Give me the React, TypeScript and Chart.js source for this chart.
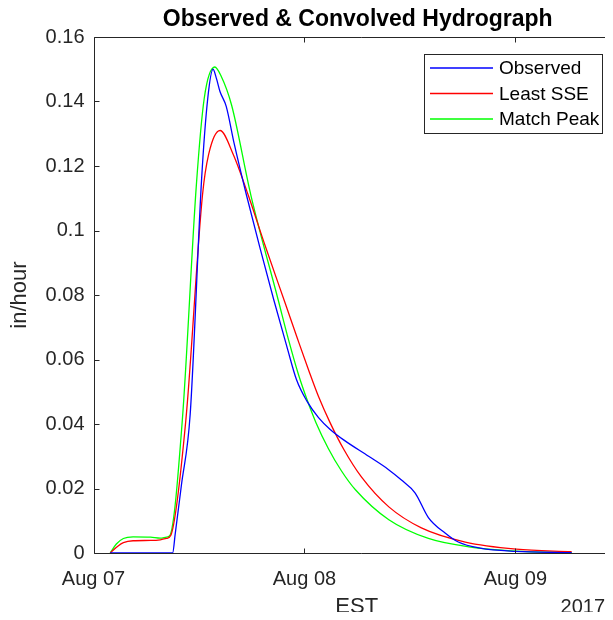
import React, { useEffect, useRef } from "react";
import { Chart, registerables } from "chart.js";

Chart.register(...registerables);

// Time in hours since Aug 07 00:00 (EST)
const obsTime = [1.9, 9.0, 9.3, 10.0, 11.0, 12.3, 13.0, 13.6, 14.0, 14.4, 15.1, 16.0, 17.4, 19.0, 20.5, 22.0, 23.1, 24.3, 25.6, 26.9, 28.5, 31.3, 33.5, 35.0, 36.6, 38.1, 40.0, 41.5, 44.0, 48.0, 54.4];
const obsValue = [0, 0, 0.006, 0.021, 0.043, 0.116, 0.141, 0.150, 0.147, 0.143, 0.1385, 0.127, 0.111, 0.094, 0.0786, 0.064, 0.0537, 0.047, 0.042, 0.0384, 0.035, 0.030, 0.026, 0.0227, 0.0186, 0.011, 0.0062, 0.0034, 0.0015, 0.0005, 0.0001];

const sseTime = [1.9, 2.8, 3.4, 4.5, 6.5, 7.6, 8.3, 8.8, 10.5, 12.4, 13.1, 14.4, 15.9, 17.6, 19.5, 21.8, 23.2, 24.5, 25.6, 26.9, 28.5, 30.5, 33.6, 37.3, 42.3, 48.1, 54.4];
const sseValue = [0, 0.0022, 0.0032, 0.0038, 0.0039, 0.0041, 0.0045, 0.0055, 0.041, 0.111, 0.1236, 0.131, 0.1236, 0.111, 0.0955, 0.0775, 0.0665, 0.0565, 0.0485, 0.0405, 0.032, 0.0235, 0.0143, 0.0078, 0.0034, 0.0012, 0.0004];

const peakTime = [1.9, 2.6, 3.4, 4.5, 6.5, 7.6, 8.3, 8.7, 10.1, 11.7, 12.6, 13.8, 14.5, 15.7, 17.9, 21.0, 22.2, 23.3, 24.3, 25.3, 26.7, 28.2, 29.8, 33.6, 38.1, 42.7, 48.0, 54.4];
const peakValue = [0, 0.0028, 0.0045, 0.005, 0.0049, 0.0046, 0.0049, 0.0055, 0.041, 0.114, 0.141, 0.1507, 0.148, 0.139, 0.111, 0.0786, 0.066, 0.0555, 0.0475, 0.0405, 0.0325, 0.0255, 0.0196, 0.0103, 0.0045, 0.0019, 0.0006, 0.0001];

const seriesNames = ["Observed", "Least SSE", "Match Peak"];
const seriesColors = ["#0000ff", "#ff0000", "#00ff00"];

const xTickHours = [0, 24, 48];
const xTickLabels = ["Aug 07", "Aug 08", "Aug 09"];
const yTicks = [0, 0.02, 0.04, 0.06, 0.08, 0.1, 0.12, 0.14, 0.16];

const titleText = "Observed & Convolved Hydrograph";
const xLabel = "EST";
const yLabel = "in/hour";
const yearLabel = "2017";

const AX = "#262626";
const FONT = "'Liberation Sans', Arial, Helvetica, sans-serif";

const pts = (t: number[], v: number[]) => t.map((x, i) => ({ x, y: v[i] }));

const decorPlugin = {
  id: "decor",
  afterDraw(chart: any) {
    const { ctx, chartArea: a, scales } = chart;
    const xs = scales.x;
    const ys = scales.y;
    ctx.save();
    ctx.strokeStyle = AX;
    ctx.lineWidth = 1;
    ctx.beginPath();
    const L = Math.round(a.left) + 0.5;
    const T = Math.round(a.top) + 0.5;
    const B = Math.round(a.bottom) + 0.5;
    ctx.moveTo(L, T);
    ctx.lineTo(L, B);
    ctx.lineTo(a.right + 10, B);
    ctx.moveTo(L, T);
    ctx.lineTo(a.right + 10, T);
    const tl = 5;
    yTicks.forEach((v) => {
      const y = Math.round(ys.getPixelForValue(v)) + 0.5;
      ctx.moveTo(L, y);
      ctx.lineTo(L + tl, y);
    });
    xTickHours.forEach((h) => {
      const x = Math.round(xs.getPixelForValue(h)) + 0.5;
      ctx.moveTo(x, B);
      ctx.lineTo(x, B - tl);
      ctx.moveTo(x, T);
      ctx.lineTo(x, T + tl);
    });
    ctx.stroke();

    ctx.fillStyle = "#000";
    ctx.font = `bold 23px ${FONT}`;
    ctx.textAlign = "center";
    ctx.textBaseline = "alphabetic";
    ctx.fillText(titleText, (a.left + a.right) / 2 + 1, 18);

    ctx.fillStyle = AX;
    ctx.font = `22px ${FONT}`;
    ctx.fillText(xLabel, (a.left + a.right) / 2, 605);
    ctx.font = `20px ${FONT}`;
    ctx.textAlign = "right";
    ctx.fillText(yearLabel, 597, 605);
    ctx.save();
    ctx.translate(18, (a.top + a.bottom) / 2);
    ctx.rotate(-Math.PI / 2);
    ctx.textAlign = "center";
    ctx.font = `22px ${FONT}`;
    ctx.fillText(yLabel, 0, 0);
    ctx.restore();

    const lx = 416, ly = 46, lw = 178, lh = 79;
    ctx.fillStyle = "#fff";
    ctx.fillRect(lx, ly, lw, lh);
    ctx.strokeStyle = AX;
    ctx.lineWidth = 1;
    ctx.strokeRect(lx + 0.5, ly + 0.5, lw, lh);
    ctx.font = `19px ${FONT}`;
    ctx.textAlign = "left";
    ctx.textBaseline = "middle";
    seriesNames.forEach((n, i) => {
      const y = ly + 14 + i * 25.5;
      ctx.strokeStyle = seriesColors[i];
      ctx.lineWidth = 1.3;
      ctx.beginPath();
      ctx.moveTo(lx + 6, y);
      ctx.lineTo(lx + 69, y);
      ctx.stroke();
      ctx.fillStyle = "#000";
      ctx.fillText(n, lx + 75, y + 1);
    });
    ctx.restore();
  },
};

export default function App() {
  const ref = useRef<HTMLCanvasElement>(null);
  useEffect(() => {
    const canvas = ref.current!;
    const chart = new Chart(canvas, {
      type: "line",
      data: {
        datasets: [
          { label: seriesNames[0], data: pts(obsTime, obsValue), borderColor: seriesColors[0] },
          { label: seriesNames[1], data: pts(sseTime, sseValue), borderColor: seriesColors[1] },
          { label: seriesNames[2], data: pts(peakTime, peakValue), borderColor: seriesColors[2] },
        ].map((d) => ({
          ...d,
          borderWidth: 1.3,
          pointRadius: 0,
          fill: false,
          cubicInterpolationMode: "monotone" as const,
        })),
      },
      options: {
        animation: false,
        responsive: false,
        devicePixelRatio: 1,
        layout: { padding: { top: 29, right: 8, left: 0, bottom: 0 } },
        plugins: { legend: { display: false }, tooltip: { enabled: false }, title: { display: false } },
        scales: {
          x: {
            type: "linear",
            min: 0,
            max: 59.9,
            grid: { display: false, drawTicks: false },
            border: { display: false },
            afterBuildTicks: (s: any) => {
              s.ticks = xTickHours.map((v) => ({ value: v }));
            },
            afterFit: (s: any) => {
              s.height = 59;
            },
            ticks: {
              padding: 14,
              color: AX,
              font: { family: FONT, size: 20 },
              maxRotation: 0,
              callback: (v: any) => xTickLabels[xTickHours.indexOf(Number(v))] ?? "",
            },
          },
          y: {
            min: 0,
            max: 0.16,
            grid: { display: false, drawTicks: false },
            border: { display: false },
            afterBuildTicks: (s: any) => {
              s.ticks = yTicks.map((v) => ({ value: v }));
            },
            afterFit: (s: any) => {
              s.width = 85.5;
            },
            ticks: {
              padding: 9,
              color: AX,
              font: { family: FONT, size: 20 },
              callback: (v: any) => String(Number(Number(v).toFixed(2))),
            },
          },
        },
      },
      plugins: [decorPlugin],
    });
    return () => chart.destroy();
  }, []);
  return (
    <div style={{ width: 605, height: 604, overflow: "hidden" }}>
      <canvas ref={ref} width={620} height={604} style={{ display: "block" }} />
    </div>
  );
}
